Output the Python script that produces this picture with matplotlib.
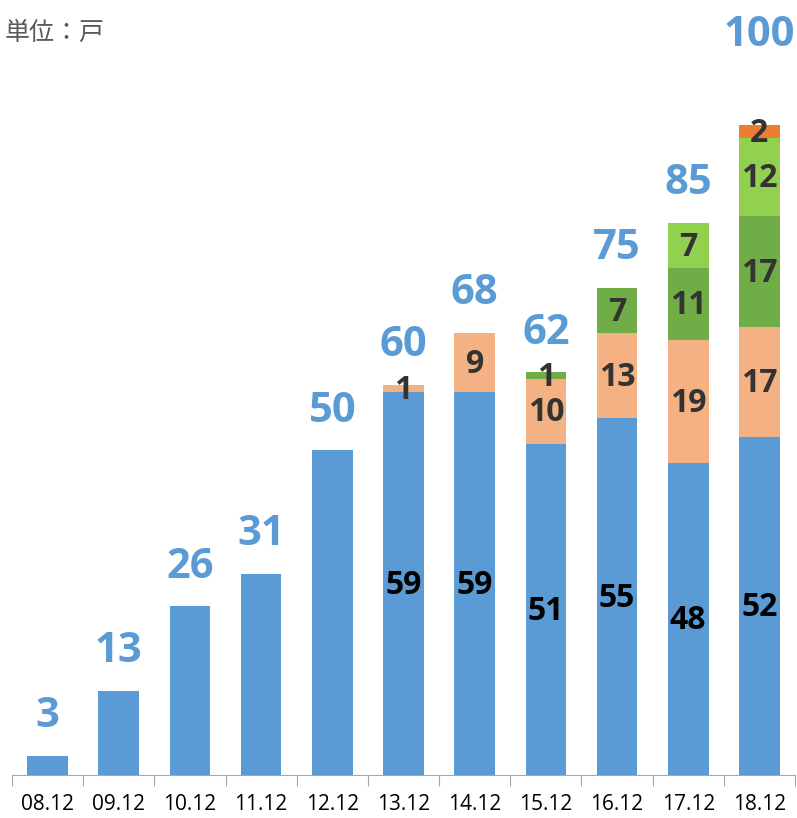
import matplotlib
matplotlib.use('Agg')
import matplotlib.pyplot as plt
import numpy as np

plt.rcParams['font.family'] = ['Open Sans', 'DejaVu Sans']

# 年份标签
years = ['08.12', '09.12', '10.12', '11.12', '12.12', '13.12', '14.12', '15.12', '16.12', '17.12', '18.12']
s1 = [3, 13, 26, 31, 50, 59, 59, 51, 55, 48, 52]
s2 = [0, 0, 0, 0, 0, 1, 9, 10, 13, 19, 17]
s3 = [0, 0, 0, 0, 0, 0, 0, 1, 7, 11, 17]
s4 = [0, 0, 0, 0, 0, 0, 0, 0, 0, 7, 12]
s5 = [0, 0, 0, 0, 0, 0, 0, 0, 0, 0, 2]
totals = [3, 13, 26, 31, 50, 60, 68, 62, 75, 85, 100]

series = [s1, s2, s3, s4, s5]
colors = ['#5B9BD5', '#F4B183', '#70AD47', '#92D050', '#ED7D31']

fig = plt.figure(figsize=(7.97, 8.18), dpi=100)
ax = fig.add_axes([12/797, 43/818, 783/797, 775/818])

x = np.arange(len(years))
bottom = np.zeros(len(years))
for k, (vals, c) in enumerate(zip(series, colors)):
    vals = np.array(vals)
    ax.bar(x, vals, width=0.57, bottom=bottom, color=c)
    for i, v in enumerate(vals):
        if v == 0:
            continue
        if k == 0 and i < 5:
            continue
        col = 'black' if k == 0 else '#333333'
        ax.text(x[i], bottom[i] + v/2 - 0.3, str(v), ha='center', va='center',
                fontsize=23, fontweight='bold', color=col)
    bottom += vals

for i, t in enumerate(totals):
    lift = 13.8 if t == 100 else 6
    ax.text(x[i], t + lift, str(t), ha='center', va='center', fontsize=30,
            fontweight='bold', color='#5B9BD5')

ax.set_xlim(-0.5, 10.5)
ax.set_ylim(0, 775/6.5)
for s in ['top', 'right', 'left']:
    ax.spines[s].set_visible(False)
ax.spines['bottom'].set_color('#A6A6A6')
ax.set_yticks([])
ax.set_xticks(np.arange(-0.5, 11, 1))
ax.set_xticklabels([])
ax.set_xticks(x, minor=True)
ax.set_xticklabels(years, minor=True, fontsize=15)
ax.tick_params(axis='x', which='major', length=8, color='#A6A6A6')
ax.tick_params(axis='x', which='minor', length=0, pad=14)

fig.text(5/797, 1 - 33/818, '単位：戸', fontsize=18, color='#595959', va='center',
         family=['Noto Sans CJK JP', 'DejaVu Sans'])

fig.savefig('out.png', dpi=100)
